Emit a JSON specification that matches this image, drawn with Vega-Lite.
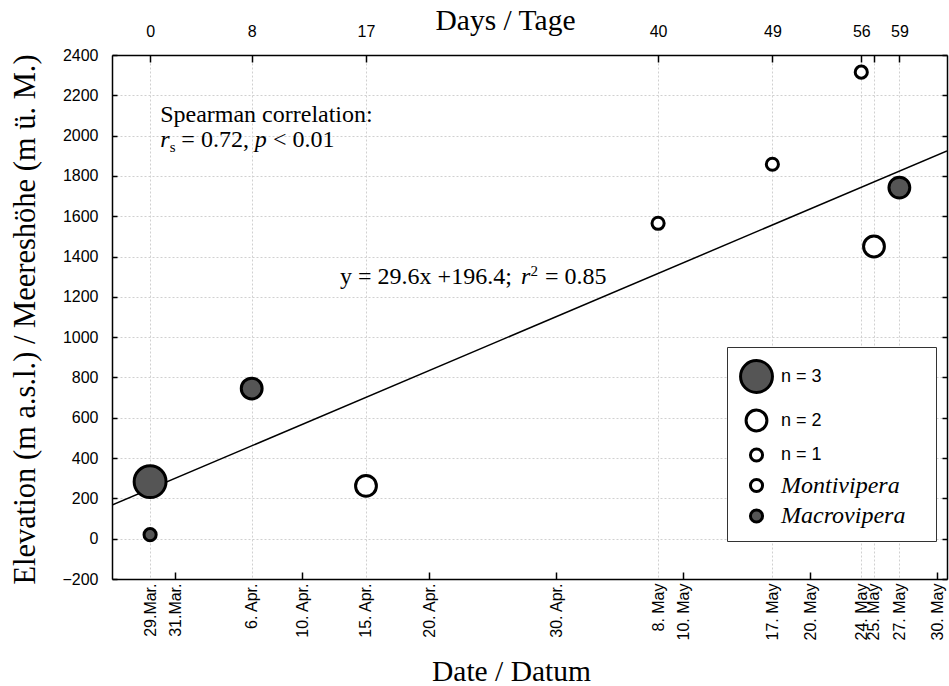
{
  "$schema": "https://vega.github.io/schema/vega-lite/v6.json",
  "width": 835,
  "height": 524,
  "autosize": {"type": "none"},
  "padding": {"left": 112, "top": 55, "right": 2, "bottom": 107},
  "background": "white",
  "config": {
    "view": {"stroke": null},
    "axis": {
      "labelFont": "Liberation Sans",
      "labelFontSize": 16,
      "labelColor": "black",
      "titleFont": "Liberation Serif",
      "titleFontSize": 29.5,
      "titleFontWeight": "normal",
      "titleColor": "black",
      "domainColor": "black",
      "domainWidth": 1.5,
      "tickColor": "black",
      "tickWidth": 1.5,
      "gridColor": "#d0d0d0",
      "gridDash": [2, 2],
      "gridWidth": 1,
      "labelFlush": false,
      "labelOverlap": false,
      "labelBound": false
    }
  },
  "datasets": {
    "obs": [
      {"day": 0, "elev": 283, "n": "3", "genus": "Macrovipera"},
      {"day": 0, "elev": 20, "n": "1", "genus": "Macrovipera"},
      {"day": 8, "elev": 745, "n": "2", "genus": "Macrovipera"},
      {"day": 17, "elev": 262, "n": "2", "genus": "Montivipera"},
      {"day": 40, "elev": 1565, "n": "1", "genus": "Montivipera"},
      {"day": 49, "elev": 1858, "n": "1", "genus": "Montivipera"},
      {"day": 56, "elev": 2315, "n": "1", "genus": "Montivipera"},
      {"day": 57, "elev": 1450, "n": "2", "genus": "Montivipera"},
      {"day": 59, "elev": 1742, "n": "2", "genus": "Macrovipera"}
    ],
    "fit": [
      {"day": -3, "elev": 167},
      {"day": 62.75, "elev": 1924}
    ],
    "txtNormal": [
      {"day": 0.79, "elev": 2068, "label": "Spearman correlation:"},
      {"day": 2.46, "elev": 1943.5, "label": "= 0.72,"},
      {"day": 9.67, "elev": 1943.5, "label": "< 0.01"},
      {"day": 14.96, "elev": 1264, "label": "y = 29.6x +196.4;"},
      {"day": 31.1, "elev": 1264, "label": "= 0.85"}
    ],
    "txtItalic": [
      {"day": 0.79, "elev": 1943.5, "label": "r"},
      {"day": 8.25, "elev": 1943.5, "label": "p"},
      {"day": 29.2, "elev": 1264, "label": "r"}
    ],
    "txtSmall": [
      {"day": 1.54, "elev": 1919, "label": "s"},
      {"day": 29.95, "elev": 1303, "label": "2"}
    ]
  },
  "layer": [
    {
      "data": {"name": "fit"},
      "mark": {"type": "line", "color": "black", "strokeWidth": 1.5, "clip": true},
      "encoding": {
        "x": {
          "field": "day", "type": "quantitative",
          "scale": {"domain": [-3, 62.75], "nice": false, "zero": false},
          "axis": {
            "orient": "top",
            "values": [0, 8, 17, 40, 49, 56, 57, 59],
            "labelExpr": "datum.value == 57 ? '' : datum.label",
            "labelAngle": 0,
            "tickSize": -7,
            "labelPadding": 23,
            "grid": false,
            "title": "Days / Tage",
            "titleX": 393,
            "titleY": -26,
            "titleAlign": "center",
            "titleBaseline": "alphabetic",
            "titleAngle": 0
          }
        },
        "y": {
          "field": "elev", "type": "quantitative",
          "scale": {"domain": [-200, 2400], "nice": false, "zero": false},
          "axis": {
            "orient": "right",
            "values": [-200, 0, 200, 400, 600, 800, 1000, 1200, 1400, 1600, 1800, 2000, 2200, 2400],
            "labels": false,
            "tickSize": -5,
            "grid": false,
            "title": null
          }
        }
      }
    },
    {
      "data": {"name": "obs"},
      "mark": {"type": "point", "shape": "circle", "filled": true, "stroke": "black", "strokeWidth": 3, "opacity": 1},
      "encoding": {
        "x": {
          "field": "day", "type": "quantitative",
          "scale": {"domain": [-3, 62.75], "nice": false, "zero": false},
          "axis": {
            "orient": "bottom",
            "values": [0, 2, 8, 12, 17, 22, 32, 40, 42, 49, 52, 56, 57, 59, 62],
            "labelExpr": "{'0':'29.Mar.','2':'31.Mar.','8':'6. Apr.','12':'10. Apr.','17':'15. Apr.','22':'20. Apr.','32':'30. Apr.','40':'8. May','42':'10. May','49':'17. May','52':'20. May','56':'24. May','57':'25. May','59':'27. May','62':'30. May'}[datum.value + '']",
            "labelAngle": 270,
            "labelAlign": "right",
            "labelBaseline": "middle",
            "labelFontSize": 16,
            "tickSize": -7,
            "tickOpacity": {"condition": {"test": "indexof([2, 12, 22, 32, 42, 52, 62], datum.value) >= 0", "value": 1}, "value": 0},
            "grid": true,
            "gridOpacity": {"condition": {"test": "indexof([0, 8, 17, 40, 49, 56, 57, 59], datum.value) >= 0", "value": 1}, "value": 0},
            "labelPadding": 11,
            "title": "Date / Datum",
            "titleX": 399,
            "titleY": 101,
            "titleAlign": "center",
            "titleBaseline": "alphabetic"
          }
        },
        "y": {
          "field": "elev", "type": "quantitative",
          "scale": {"domain": [-200, 2400], "nice": false, "zero": false},
          "axis": {
            "orient": "left",
            "values": [-200, 0, 200, 400, 600, 800, 1000, 1200, 1400, 1600, 1800, 2000, 2200, 2400],
            "format": "d",
            "tickSize": -5,
            "labelPadding": 19,
            "grid": true,
            "title": "Elevation (m a.s.l.) / Meereshöhe (m ü. M.)",
            "titleFontSize": 30.5,
            "titleX": -87,
            "titleY": 264,
            "titleAngle": 270,
            "titleAlign": "center",
            "titleBaseline": "middle"
          }
        },
        "size": {
          "field": "n", "type": "nominal",
          "scale": {"type": "ordinal", "domain": ["3", "2", "1", "Montivipera", "Macrovipera"], "range": [1018, 434, 147, 147, 147]},
          "legend": {
            "orient": "none",
            "legendX": 615,
            "legendY": 292,
            "title": null,
            "direction": "vertical",
            "strokeColor": "#333333",
            "fillColor": "white",
            "padding": 12,
            "rowPadding": 4.5,
            "labelOffset": 7,
            "labelLimit": 400,
            "symbolType": "circle",
            "symbolStrokeColor": "black",
            "symbolStrokeWidth": 3,
            "symbolOpacity": 1,
            "symbolFillColor": {"expr": "datum.value === '3' || datum.value === 'Macrovipera' ? '#555555' : 'white'"},
            "labelFont": {"expr": "indexof(['1','2','3'], datum.value) >= 0 ? 'Liberation Sans' : 'Liberation Serif'"},
            "labelFontStyle": {"expr": "indexof(['1','2','3'], datum.value) >= 0 ? 'normal' : 'italic'"},
            "labelFontSize": {"expr": "indexof(['1','2','3'], datum.value) >= 0 ? 18 : 24"},
            "labelColor": "black",
            "labelExpr": "indexof(['1','2','3'], datum.value) >= 0 ? 'n = ' + datum.value : datum.value + '\u2800'"
          }
        },
        "fill": {
          "field": "genus", "type": "nominal",
          "scale": {"domain": ["Montivipera", "Macrovipera"], "range": ["white", "#555555"]},
          "legend": null
        }
      }
    },
    {
      "data": {"name": "txtNormal"},
      "mark": {"type": "text", "align": "left", "baseline": "alphabetic", "font": "Liberation Serif", "fontSize": 24, "color": "black"},
      "encoding": {
        "x": {"field": "day", "type": "quantitative", "scale": {"domain": [-3, 62.75], "nice": false, "zero": false}, "axis": null},
        "y": {"field": "elev", "type": "quantitative", "scale": {"domain": [-200, 2400], "nice": false, "zero": false}, "axis": null},
        "text": {"field": "label"}
      }
    },
    {
      "data": {"name": "txtItalic"},
      "mark": {"type": "text", "align": "left", "baseline": "alphabetic", "font": "Liberation Serif", "fontSize": 24, "fontStyle": "italic", "color": "black"},
      "encoding": {
        "x": {"field": "day", "type": "quantitative", "scale": {"domain": [-3, 62.75], "nice": false, "zero": false}, "axis": null},
        "y": {"field": "elev", "type": "quantitative", "scale": {"domain": [-200, 2400], "nice": false, "zero": false}, "axis": null},
        "text": {"field": "label"}
      }
    },
    {
      "data": {"name": "txtSmall"},
      "mark": {"type": "text", "align": "left", "baseline": "alphabetic", "font": "Liberation Serif", "fontSize": 15, "color": "black"},
      "encoding": {
        "x": {"field": "day", "type": "quantitative", "scale": {"domain": [-3, 62.75], "nice": false, "zero": false}, "axis": null},
        "y": {"field": "elev", "type": "quantitative", "scale": {"domain": [-200, 2400], "nice": false, "zero": false}, "axis": null},
        "text": {"field": "label"}
      }
    }
  ],
  "resolve": {"axis": {"x": "independent", "y": "independent"}}
}
